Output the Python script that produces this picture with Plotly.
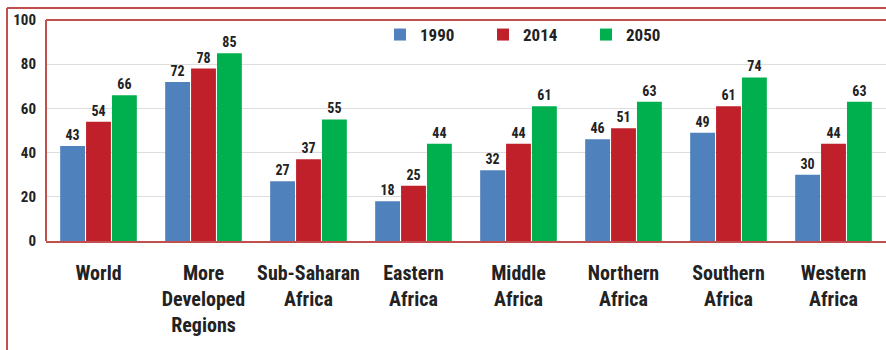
import plotly.graph_objects as go

categories = ["World", "More<br>Developed<br>Regions", "Sub-Saharan<br>Africa", "Eastern<br>Africa",
              "Middle<br>Africa", "Northern<br>Africa", "Southern<br>Africa", "Western<br>Africa"]
series_names = ["1990", "2014", "2050"]
v1990 = [43, 72, 27, 18, 32, 46, 49, 30]
v2014 = [54, 78, 37, 25, 44, 51, 61, 44]
v2050 = [66, 85, 55, 44, 61, 63, 74, 63]
y_ticks = [0, 20, 40, 60, 80, 100]

colors = ["#4F81BD", "#C0202A", "#00B04F"]
border = "#C0504D"
font_narrow = "Roboto Condensed, Liberation Sans Narrow, Arial Narrow, Open Sans, sans-serif"

fig = go.Figure()
for name, vals, col in zip(series_names, [v1990, v2014, v2050], colors):
    fig.add_trace(go.Bar(
        x=categories, y=vals, name=name,
        marker=dict(color=col, line=dict(width=0)),
        text=vals, textposition="outside", cliponaxis=False,
        textfont=dict(family=font_narrow, size=14, color="#222222", weight="bold"),
    ))

W, H = 886, 350
ml, mr, mt, mb = 46, 0, 20, 109
pw, ph = W - ml - mr, H - mt - mb

def px_x(x):
    return (x - ml) / pw

def px_y(y):
    return (H - mb - y) / ph

fig.update_layout(
    width=W, height=H,
    margin=dict(l=ml, r=mr, t=mt, b=mb, pad=0, autoexpand=False),
    paper_bgcolor="white", plot_bgcolor="white",
    barmode="group", bargap=0.26, bargroupgap=0.04,
    font=dict(family=font_narrow, color="#222222"),
    showlegend=True,
    legend=dict(
        orientation="h", x=px_x(380), y=px_y(17), xanchor="left", yanchor="top",
        entrywidth=58, entrywidthmode="pixels",
        font=dict(family=font_narrow, size=17, color="#222222", weight="bold"),
        itemwidth=30, tracegroupgap=0, bgcolor="rgba(0,0,0,0)",
    ),
    xaxis=dict(
        showline=True, linecolor=border, linewidth=2, mirror=False, automargin=False,
        ticks="", tickfont=dict(family=font_narrow, size=20, color="#222222", weight="bold"),
        ticklabelstandoff=13,
    ),
    yaxis=dict(
        range=[0, 100], tickvals=y_ticks, showgrid=True, gridcolor="#DDDDDD", gridwidth=1,
        showline=False, zeroline=False, automargin=False,
        ticks="", tickfont=dict(family=font_narrow, size=15, color="#222222", weight="bold"),
        ticklabelstandoff=9,
    ),
    shapes=[
        dict(type="line", xref="paper", yref="paper", x0=px_x(7), x1=px_x(7),
             y0=px_y(350), y1=px_y(8), line=dict(color=border, width=2)),
        dict(type="line", xref="paper", yref="paper", x0=px_x(7), x1=px_x(886),
             y0=px_y(8), y1=px_y(8), line=dict(color=border, width=2)),
        dict(type="line", xref="paper", yref="paper", x0=0, x1=1,
             y0=1, y1=1, line=dict(color=border, width=2)),
        dict(type="line", xref="paper", yref="paper", x0=0, x1=0,
             y0=0, y1=1, line=dict(color=border, width=2)),
    ],
)

fig.write_html("out.html", config={"displayModeBar": False},
               post_script="document.body.style.margin='0';")
